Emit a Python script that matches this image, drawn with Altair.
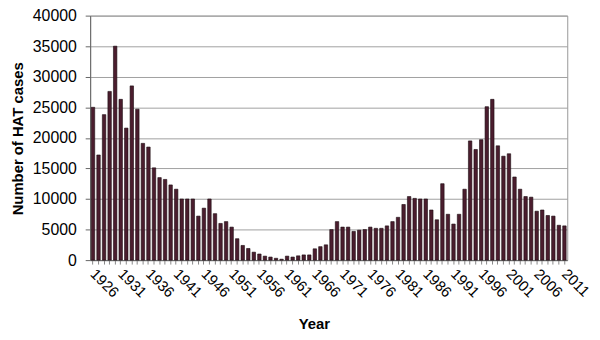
import altair as alt
import pandas as pd

years = list(range(1926, 2012))
cases = [
    25000, 17200, 23800, 27600, 35000, 26300, 21600, 28500, 24700, 19100,
    18500, 15100, 13500, 13200, 12300, 11600, 10000, 10000, 10000, 7200,
    8500, 10000, 7600, 6000, 6300, 5400, 3500, 2400, 1900, 1300,
    1000, 650, 500, 300, 150, 650, 500, 700, 850, 850,
    1850, 2200, 2500, 5000, 6300, 5400, 5400, 4700, 4900, 5000,
    5400, 5200, 5200, 5600, 6300, 7000, 9100, 10400, 10100, 10000,
    10000, 8200, 6600, 12500, 7500, 5900, 7500, 11600, 19500, 18100,
    19700, 25100, 26300, 18700, 17000, 17400, 13600, 11600, 10400, 10300,
    8000, 8200, 7300, 7200, 5700, 5600,
]

df = pd.DataFrame({"Year": [str(y) for y in years], "Cases": cases})

chart = (
    alt.Chart(df)
    .mark_bar(color="#4b1d2e", stroke="#1a0a10", strokeWidth=0.6)
    .encode(
        x=alt.X(
            "Year:O",
            title="Year",
            sort=None,
            scale=alt.Scale(paddingInner=0.38, paddingOuter=0.2),
            axis=alt.Axis(
                labelAngle=45,
                labelAlign="left",
                labelBaseline="middle",
                labelExpr="toNumber(datum.value) % 5 == 1 ? datum.label : ''",
                labelFontSize=15,
                labelColor="#000",
                labelPadding=7,
                tickColor="#888",
                tickSize=4,
                domainColor="#666",
                titleFontSize=15,
                titleFontWeight="bold",
                titleColor="#000",
                titleBaseline="middle",
                titleX=226,
                titleY=64,
                labelOverlap=False,
            ),
        ),
        y=alt.Y(
            "Cases:Q",
            title="Number of HAT cases",
            scale=alt.Scale(domain=[0, 40000]),
            axis=alt.Axis(
                values=list(range(0, 40001, 5000)),
                format="d",
                labelFontSize=16,
                labelColor="#000",
                labelPadding=9,
                tickColor="#666",
                tickSize=5,
                domainColor="#666",
                gridColor="#a0a0a0",
                gridWidth=1,
                titleFontSize=15,
                titleFontWeight="bold",
                titleColor="#000",
                titleBaseline="middle",
                titleX=-73,
                titleY=124,
            ),
        ),
    )
    .properties(
        width=482,
        height=247,
        autosize=alt.AutoSizeParams(type="none"),
        padding={"left": 83, "top": 6, "right": 25, "bottom": 78},
    )
    .configure(font="Liberation Sans")
    .configure_view(stroke="#999")
)

chart.save("out.html", embed_options={"renderer": "svg", "actions": False})
